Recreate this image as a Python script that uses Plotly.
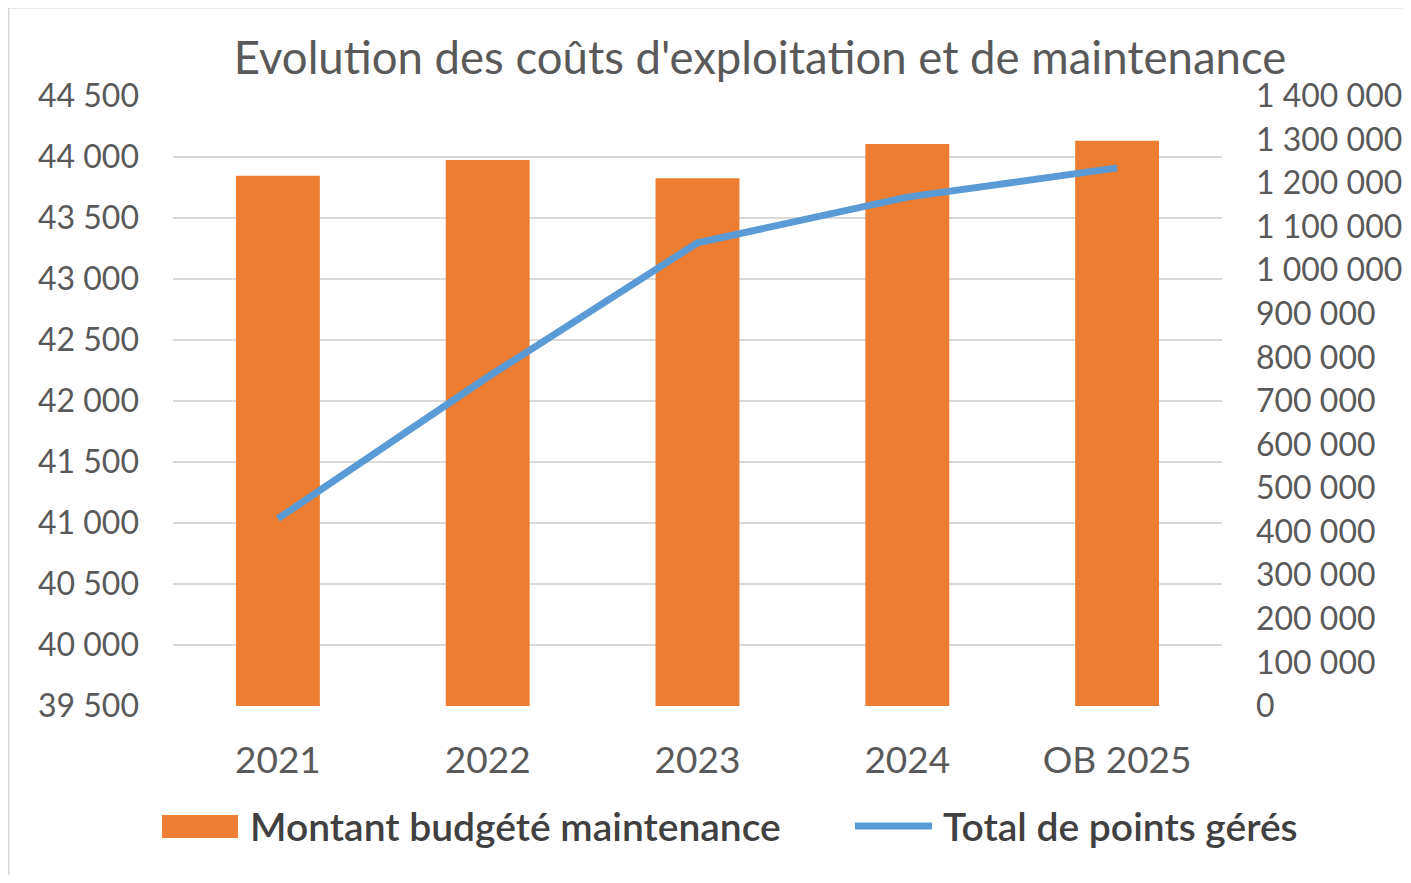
import plotly.graph_objects as go

categories = ["2021", "2022", "2023", "2024", "OB 2025"]
budget_maintenance = [43847, 43975, 43825, 44107, 44134]
total_points = [430000, 755000, 1063000, 1168000, 1235000]

left_ticks = list(range(39500, 44501, 500))
right_ticks = list(range(0, 1400001, 100000))

# page offset (body margin) and desired plot area in screen pixels
OFF = 8
W, H = 1395, 867
PL, PR, PT, PB = 173, 1222, 96, 706
ml, mr = PL - OFF, OFF + W - PR
mt, mb = PT - OFF, OFF + H - PB
pw, ph = PR - PL, PB - PT


def px(x):
    return (x - PL) / pw


def py(y):
    return (PB - y) / ph


FONT = "Lato"
GRAY = "#595959"
DARK = "#404040"
ORANGE = "#ED7D31"
BLUE = "#5B9BD5"

fig = go.Figure()
fig.add_trace(go.Bar(
    x=categories, y=budget_maintenance, name="Montant budgété maintenance",
    marker=dict(color=ORANGE, line=dict(width=0)), yaxis="y", showlegend=False,
))
fig.add_trace(go.Scatter(
    x=categories, y=total_points, name="Total de points gérés",
    mode="lines", line=dict(color=BLUE, width=7), yaxis="y2", showlegend=False,
))

legend_font = dict(family=FONT, size=39, color=DARK, weight=600)

fig.update_layout(
    width=W, height=H,
    margin=dict(l=ml, r=mr, t=mt, b=mb, autoexpand=False),
    paper_bgcolor="white", plot_bgcolor="white",
    separators=", ",
    bargap=0.6,
    font=dict(family=FONT, color=GRAY),
    title=dict(
        text="Evolution des coûts d'exploitation et de maintenance",
        x=px(760), xref="paper", xanchor="center",
        y=1 - (58 - OFF) / H, yanchor="middle",
        font=dict(family=FONT, size=45.5, color=GRAY),
    ),
    xaxis=dict(
        type="category", showgrid=False, zeroline=False, showline=False,
        ticks="", tickfont=dict(family=FONT, size=37, color=GRAY),
        ticklabelstandoff=29, automargin=False,
    ),
    yaxis=dict(
        range=[39500, 44500], tickvals=left_ticks, tickformat=",d",
        showgrid=True, gridcolor="#D9D9D9", gridwidth=2, zeroline=False,
        showline=False, ticks="", ticklabelstandoff=33, automargin=False,
        tickfont=dict(family=FONT, size=32, color=GRAY),
    ),
    yaxis2=dict(
        range=[0, 1400000], tickvals=right_ticks, tickformat=",d",
        overlaying="y", side="right", showgrid=False, zeroline=False,
        showline=False, ticks="", ticklabelstandoff=33, automargin=False,
        tickfont=dict(family=FONT, size=32, color=GRAY),
    ),
    shapes=[
        dict(type="rect", xref="paper", yref="paper",
             x0=px(8), x1=px(1430), y0=py(900), y1=py(7),
             line=dict(color="#D9D9D9", width=3), layer="below"),
        # legend symbols
        dict(type="rect", xref="paper", yref="paper",
             x0=px(162), x1=px(238), y0=py(838), y1=py(815),
             fillcolor=ORANGE, line=dict(width=0)),
        dict(type="line", xref="paper", yref="paper",
             x0=px(855), x1=px(932), y0=py(826), y1=py(826),
             line=dict(color=BLUE, width=7)),
    ],
    annotations=[
        dict(text="Montant budgété maintenance", xref="paper", yref="paper",
             x=px(248), y=py(826), xanchor="left", yanchor="middle",
             showarrow=False, font=legend_font),
        dict(text="Total de points gérés", xref="paper", yref="paper",
             x=px(941), y=py(826), xanchor="left", yanchor="middle",
             showarrow=False, font=legend_font),
    ],
)

fig.write_html("out.html")
